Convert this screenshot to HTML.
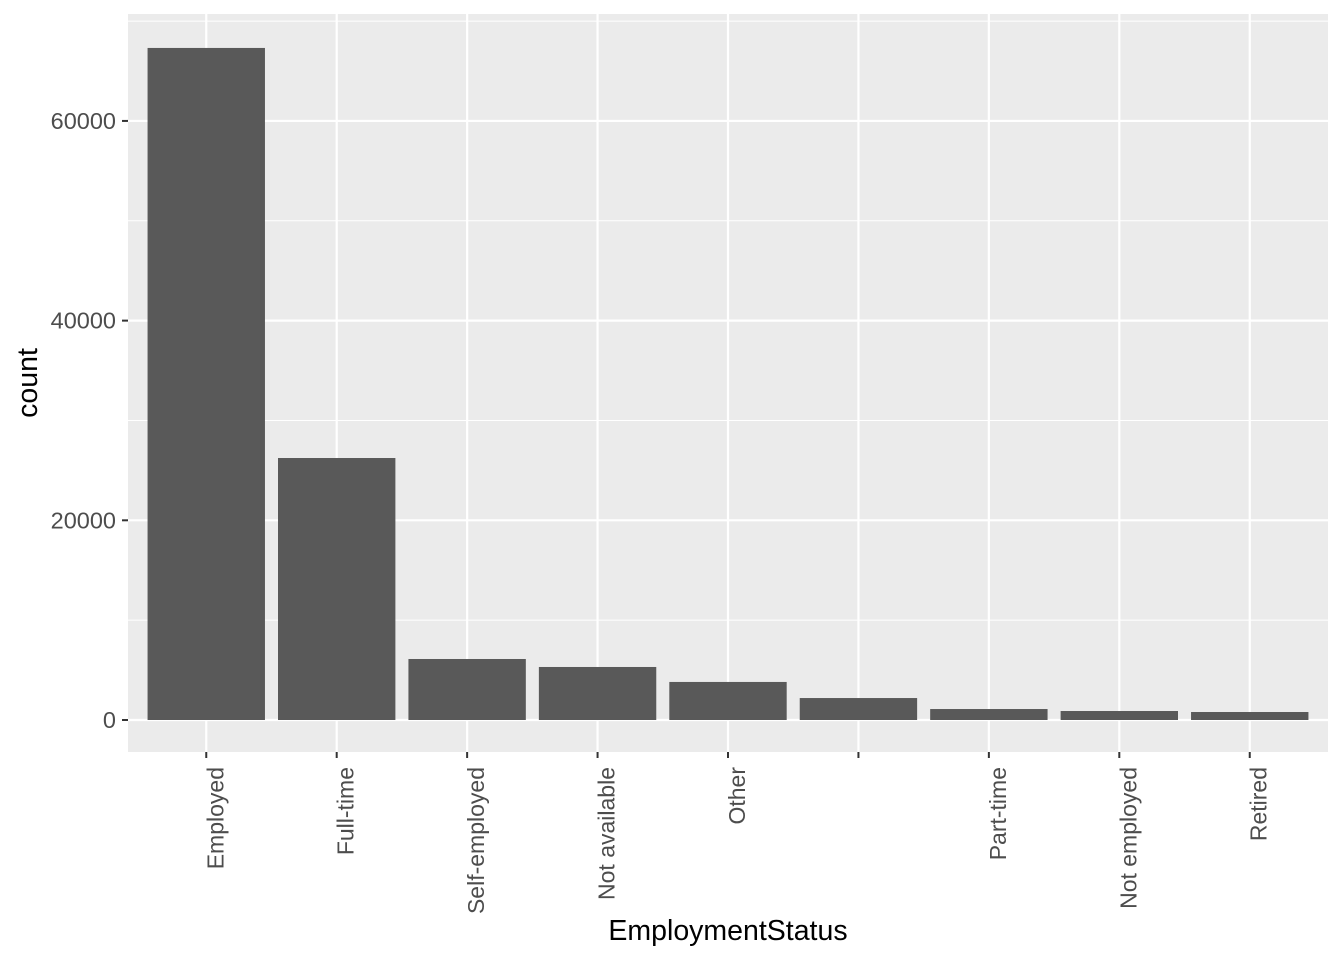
<!DOCTYPE html>
<html><head><meta charset="utf-8"><style>
body{margin:0;background:#fff;}
svg text{font-family:"Liberation Sans",Arial,sans-serif;}
</style></head><body>
<svg id="chart" width="1344" height="960" xmlns="http://www.w3.org/2000/svg"></svg>
<script>
const categories=["Employed","Full-time","Self-employed","Not available","Other","","Part-time","Not employed","Retired"];
const counts=[67310,26240,6110,5310,3810,2200,1100,900,800];
const yTicks=[0,20000,40000,60000];
const yMinor=[10000,30000,50000,70000];

const svg=document.getElementById('chart');
const NS="http://www.w3.org/2000/svg";
const L=128,R=1328,T=14,B=752;
const yMin=-3205,yMax=70710;
function y(v){return B-(v-yMin)/(yMax-yMin)*(B-T);}
const band=(R-L)/(categories.length+0.2);
function x(i){return L+(0.6+i)*band;}
function el(tag,attrs,parent){const e=document.createElementNS(NS,tag);for(const k in attrs)e.setAttribute(k,attrs[k]);(parent||svg).appendChild(e);return e;}

const panel=el('rect',{x:L,y:T,width:R-L,height:B-T,fill:'#ebebeb'});


yMinor.forEach(v=>{const g=el('line',{x1:L,x2:R,y1:y(v),y2:y(v),stroke:'#fff','stroke-width':1});

});
yTicks.forEach(v=>{const g=el('line',{x1:L,x2:R,y1:y(v),y2:y(v),stroke:'#fff','stroke-width':2.2});

});
categories.forEach((c,i)=>{const g=el('line',{x1:x(i),x2:x(i),y1:T,y2:B,stroke:'#fff','stroke-width':2.2});

});
const bw=band*0.9;
counts.forEach((v,i)=>{const r=el('rect',{x:x(i)-bw/2,y:y(v),width:bw,height:y(0)-y(v),fill:'#595959'});

});
yTicks.forEach(v=>{
const t=el('line',{x1:L-6,x2:L,y1:y(v),y2:y(v),stroke:'#333','stroke-width':2});


const lb=el('text',{x:L-12,y:y(v)+8,'text-anchor':'end','font-size':23.5,fill:'#4d4d4d'});lb.textContent=v;

});
categories.forEach((c,i)=>{
const t=el('line',{x1:x(i),x2:x(i),y1:B,y2:B+6,stroke:'#333','stroke-width':2});


const lb=el('text',{x:0,y:0,'text-anchor':'end','font-size':23,fill:'#4d4d4d',transform:`translate(${x(i)+17},${B+15}) rotate(-90)`});lb.textContent=c;

});
const xt=el('text',{x:(L+R)/2,y:940,'text-anchor':'middle','font-size':28.5,fill:'#000'});xt.textContent='EmploymentStatus';


const yt=el('text',{x:0,y:0,'text-anchor':'middle','font-size':28.5,fill:'#000',transform:`translate(37,${(T+B)/2}) rotate(-90)`});yt.textContent='count';


</script>
</body></html>
